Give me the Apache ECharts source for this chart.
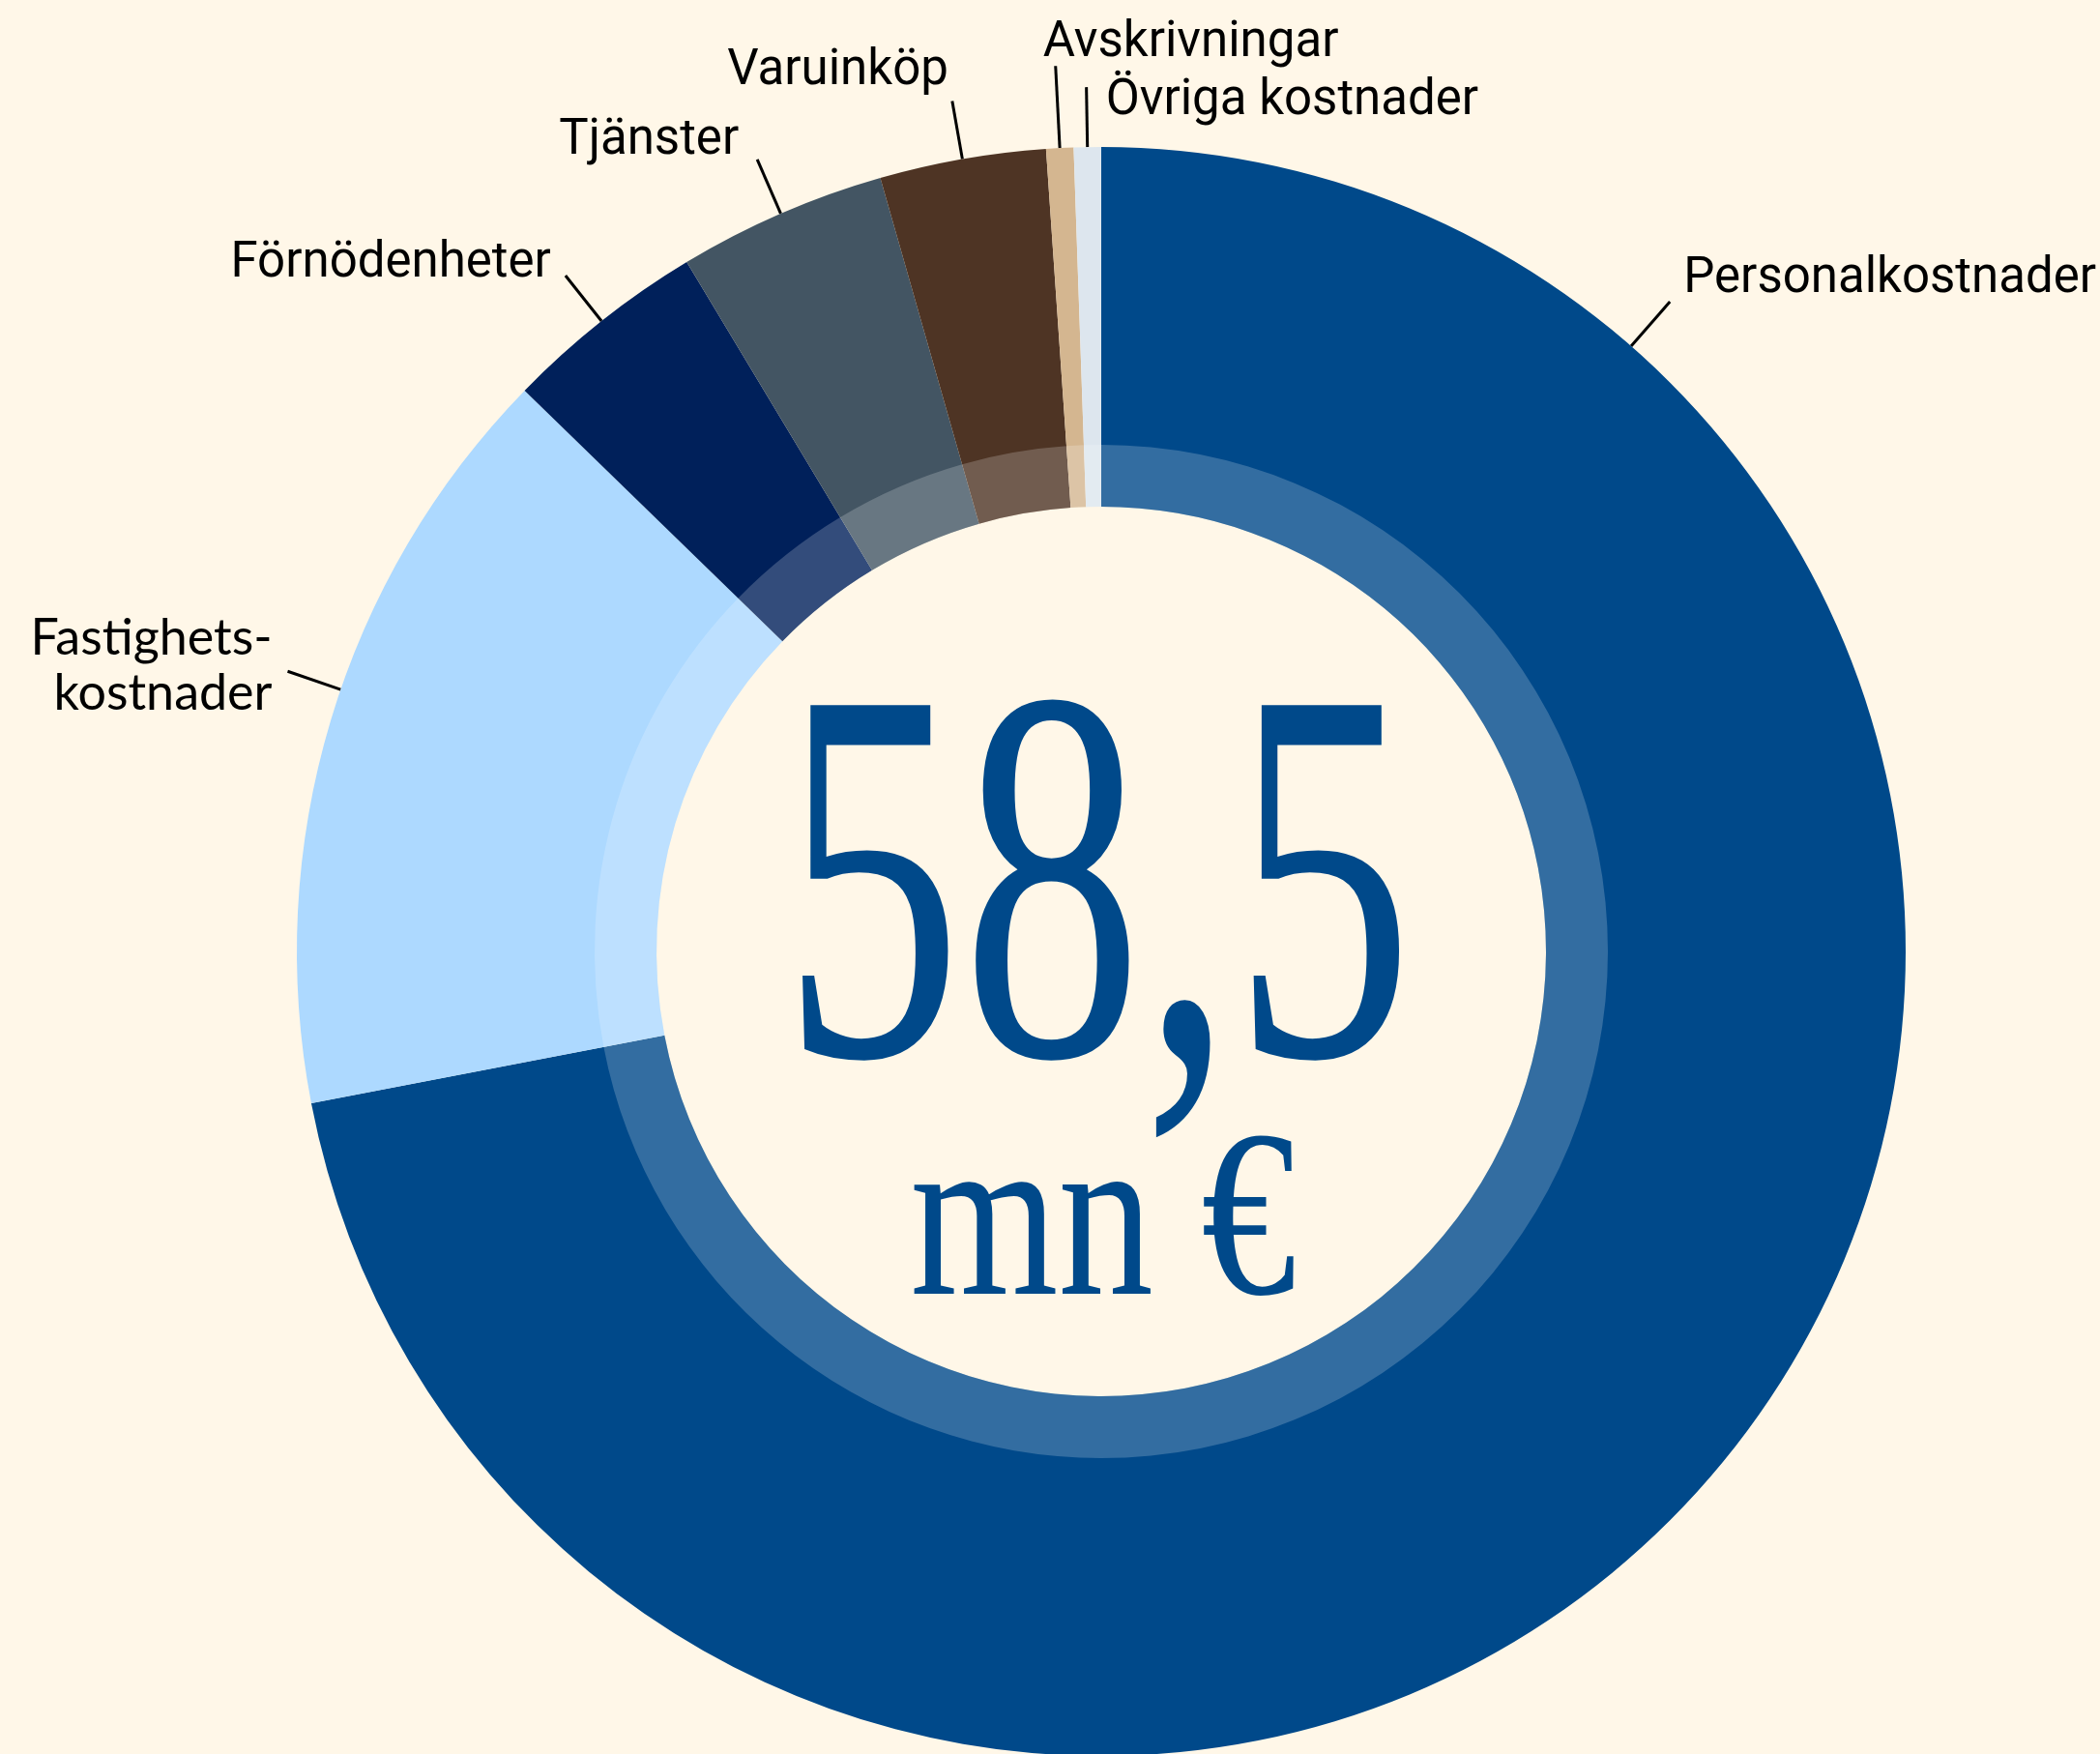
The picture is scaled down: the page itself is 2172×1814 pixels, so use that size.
<!DOCTYPE html>
<html>
<head>
<meta charset="utf-8">
<title>Kostnader 58,5 mn €</title>
<script src="https://cdn.jsdelivr.net/npm/echarts@6/dist/echarts.min.js"></script>
<style>
html, body { margin: 0; padding: 0; background: #fff7e8; }
#chart { width: 2172px; height: 1814px; }
</style>
</head>
<body>
<div id="chart"></div>
<script>
// kostnader i mn €
var names = ['Personalkostnader', 'Fastighetskostnader', 'Förnödenheter', 'Tjänster', 'Varuinköp', 'Avskrivningar', 'Övriga kostnader'];
var labels = ['Personalkostnader', 'Fastighets-\nkostnader', 'Förnödenheter', 'Tjänster', 'Varuinköp', 'Avskrivningar', 'Övriga kostnader'];
var values = [42.1, 8.95, 2.4, 2.45, 1.95, 0.32, 0.32];
var colors = ['#00498a', '#add9ff', '#00205a', '#435563', '#4e3424', '#d4b690', '#dde6ee'];
var totalText = '58,5';
var unitText = 'mn €';

// geometri
var CX = 1139, CY = 984;
var R_IN = 460, R_MID = 524, R_OUT = 832;

// etikettens läge i förhållande till linjens ände: [dx, dy, align]
var labelPlace = [
	[14, -23, 'left'],
	[-16, -6, 'right'],
	[-15, -12, 'right'],
	[-19, -19, 'right'],
	[-4, -30, 'right'],
	[-13, -23, 'left'],
	[20, 15, 'left']
];
var lineLen = [61, 58, 60, 61, 61, 85, 62];
// vinkel (grader medurs från toppen) där linjen sitter, null = mitt i sektorn
var lineAngle = [41.2, 289.0, null, null, null, null, null];

var chart = echarts.init(document.getElementById('chart'), null, { renderer: 'canvas' });

var pieData = [], ringData = [];
for (var i = 0; i < values.length; i++) {
	var item = {
		name: names[i],
		value: values[i],
		itemStyle: { color: colors[i] },
		label: { formatter: labels[i] },
		labelLine: { length: lineLen[i] }
	};
	if (i === 1) {
		item.label.fontFamily = 'Lato';
		item.label.fontSize = 52;
		item.label.lineHeight = 57;
	}
	pieData.push(item);
	ringData.push({ name: names[i], value: values[i] });
}

var option = {
	backgroundColor: '#fff7e8',
	animation: false,
	series: [{
		type: 'pie',
		center: [CX, CY],
		radius: [R_IN, R_OUT],
		startAngle: 90,
		clockwise: true,
		avoidLabelOverlap: false,
		itemStyle: { borderWidth: 0 },
		label: {
			show: true,
			position: 'outside',
			fontFamily: 'Roboto',
			fontSize: 51,
			color: '#000'
		},
		labelLine: {
			show: true,
			length: 60,
			length2: 0,
			smooth: false,
			lineStyle: { color: '#000', width: 3 }
		},
		labelLayout: function (p) {
			var i = p.dataIndex;
			var pts = p.labelLinePoints;
			if (!pts) return {};
			if (lineAngle[i] != null) {
				var a = lineAngle[i] * Math.PI / 180;
				pts = [
					[CX + R_OUT * Math.sin(a), CY - R_OUT * Math.cos(a)],
					[CX + (R_OUT + lineLen[i]) * Math.sin(a), CY - (R_OUT + lineLen[i]) * Math.cos(a)]
				];
			}
			var end = pts[pts.length - 1];
			return {
				x: end[0] + labelPlace[i][0],
				y: end[1] + labelPlace[i][1],
				align: labelPlace[i][2],
				verticalAlign: 'middle',
				labelLinePoints: pts
			};
		},
		emphasis: { disabled: true },
		data: pieData
	}, {
		// ljusare inre ring
		type: 'pie',
		center: [CX, CY],
		radius: [R_IN, R_MID],
		startAngle: 90,
		clockwise: true,
		silent: true,
		z: 3,
		itemStyle: { color: 'rgba(255,255,255,0.2)', borderWidth: 0 },
		label: { show: false },
		labelLine: { show: false },
		emphasis: { disabled: true },
		data: ringData
	}],
	graphic: [{
		type: 'text',
		x: CX - 4,
		y: CY - 38,
		scaleX: 0.675,
		silent: true,
		style: {
			text: totalText,
			font: '553px "Liberation Serif"',
			fill: '#00498a',
			align: 'center',
			verticalAlign: 'middle'
		}
	}, {
		type: 'text',
		x: CX + 2,
		y: CY + 289,
		scaleX: 0.8,
		silent: true,
		style: {
			text: unitText,
			font: '246px "Liberation Serif"',
			fill: '#00498a',
			align: 'center',
			verticalAlign: 'middle'
		}
	}]
};
chart.setOption(option);
</script>
</body>
</html>
